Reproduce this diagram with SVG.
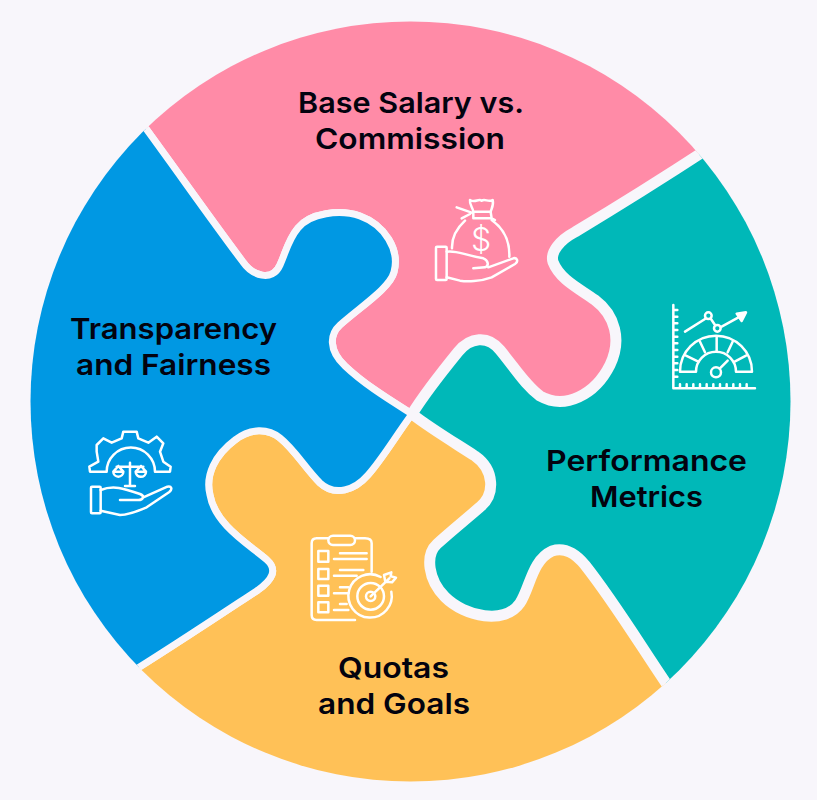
<svg xmlns="http://www.w3.org/2000/svg" width="817" height="800" viewBox="0 0 817 800">
<defs><clipPath id="disc"><circle cx="410.5" cy="401.5" r="380"/></clipPath></defs>
<style>
.p{stroke:#f8f6fb;stroke-width:7;stroke-linejoin:round;clip-path:url(#disc)}
.w{stroke-width:11}
.t{font-family:Inter,"Open Sans","DejaVu Sans",sans-serif;font-size:29px;font-weight:600;fill:#03030f}
.i{fill:none;stroke:#fff;stroke-width:7.5;stroke-linecap:round;stroke-linejoin:round}
</style>
<rect width="817" height="800" fill="#f8f6fb"/>
<g id="connectors"></g>
<g id="node-base-salary">
<path class="p" fill="#ff8ba7" d="M139,119 C180,175 215,225 243,262 C252,275 272,283 280,265 C286,252 288,240 298,228 C310,213 340,209 360,216 C385,225 400,250 394,272 C390,288 360,307 340,325 C330,334 328,350 345,366 C365,385 390,400 412,414 C425,393 445,368 458,352 C470,337 488,335 500,350 C515,368 525,385 540,396 C565,410 595,395 610,365 C622,340 615,315 595,300 C580,289 560,280 553,262 C550,252 560,240 575,232 C615,208 660,180 709,148 A392,392 0 0 0 139,119 Z"/>
<text class="t" x="298" y="113" textLength="226" lengthAdjust="spacingAndGlyphs">Base Salary vs.</text>
<text class="t" x="315" y="149" textLength="190" lengthAdjust="spacingAndGlyphs">Commission</text>
<g class="i" transform="translate(420 190) scale(.3333)">
<rect x="48" y="170" width="32" height="100" rx="3"/>
<path d="M80,185 C110,180 130,195 190,205 C205,210 208,228 195,232 L160,235 M205,232 L280,205 C292,202 296,215 285,222 L215,262 C180,275 140,275 120,272 L80,262"/>
<path d="M150,30 C165,40 175,25 185,32 C195,25 205,38 218,30 C222,45 215,55 212,65 L160,65 C158,52 148,45 150,30 Z M160,66 L160,85 L215,85 L212,66 M110,52 L155,68 M125,85 L150,72 M215,85 L225,90"/>
<path d="M135,92 C110,115 95,145 96,175 M215,90 C250,115 270,150 268,200"/>
</g>
<text x="481" y="251" font-family="Inter,sans-serif" font-size="32" font-weight="300" fill="#fff" text-anchor="middle">$</text>
</g>
<g id="node-quotas">
<path class="p" fill="#ffc157" d="M412,414 C395,437 383,458 368,475 C355,490 335,497 320,483 C305,468 295,450 280,438 C268,428 250,428 235,440 C215,455 205,475 210,495 C215,525 250,545 267,560 C278,570 272,580 258,590 C220,615 175,645 130,673 A392,392 0 0 0 672,692 C640,645 615,603 585,565 C575,553 565,547 552,551 C532,560 530,588 520,603 C505,625 465,617 445,597 C428,580 425,555 437,544 C450,532 465,520 480,507 C495,495 495,470 475,456 C455,443 430,428 412,414 Z"/>
<text class="t" x="338" y="678" textLength="111" lengthAdjust="spacingAndGlyphs">Quotas</text>
<text class="t" x="318" y="714" textLength="152" lengthAdjust="spacingAndGlyphs">and Goals</text>
<g class="i" transform="translate(300 525) scale(.3333)">
<path d="M85,40 H50 Q35,40 35,55 V270 Q35,285 50,285 H165 M165,40 H195 Q215,40 215,55 V140"/>
<rect x="85" y="32" width="80" height="28" rx="14"/>
<rect x="55" y="78" width="30" height="32"/><rect x="55" y="132" width="30" height="30"/><rect x="55" y="182" width="30" height="30"/><rect x="55" y="232" width="30" height="30"/>
<path d="M120,85 H200 M102,102 H200 M120,135 H190 M102,152 H170 M120,187 H145 M102,205 H145 M120,237 H140 M102,255 H145"/>
<path d="M242,156 A65,65 0 1 0 274,200"/>
<circle cx="212" cy="214" r="40"/><circle cx="212" cy="214" r="14"/>
<path d="M212,214 L268,160 M252,150 L256,170 L276,172 L288,158 L272,154 L274,142 Z"/>
</g>
</g>
<g id="node-performance">
<path class="p w" fill="#00b8b8" d="M709,148 A392,392 0 0 1 672,692 C640,645 615,603 585,565 C575,553 565,547 552,551 C532,560 530,588 520,603 C505,625 465,617 445,597 C428,580 425,555 437,544 C450,532 465,520 480,507 C495,495 495,470 475,456 C455,443 430,428 412,414 C425,393 445,368 458,352 C470,337 488,335 500,350 C515,368 525,385 540,396 C565,410 595,395 610,365 C622,340 615,315 595,300 C580,289 560,280 553,262 C550,252 560,240 575,232 C615,208 660,180 709,148 Z"/>
<text class="t" x="546" y="471" textLength="201" lengthAdjust="spacingAndGlyphs">Performance</text>
<text class="t" x="590" y="507" textLength="113" lengthAdjust="spacingAndGlyphs">Metrics</text>
<g class="i" transform="translate(660 295) scale(.3333)">
<path d="M40,30 V280 H285 M40,45 H52 M40,65 H52 M40,85 H52 M40,105 H52 M40,125 H52 M40,145 H52 M40,165 H52 M40,185 H52 M40,205 H52 M40,225 H52 M40,245 H52 M60,280 V268 M80,280 V268 M100,280 V268 M120,280 V268 M140,280 V268 M160,280 V268 M180,280 V268 M200,280 V268 M220,280 V268 M240,280 V268 M260,280 V268"/>
<path d="M75,110 L135,72 M153,72 L165,90 M185,95 L245,62"/>
<circle cx="145" cy="62" r="10"/><circle cx="172" cy="100" r="10"/>
<path d="M258,52 L230,56 L245,78 Z" fill="#fff"/>
<path d="M60,230 A108,108 0 0 1 276,230 H228 A60,60 0 0 0 108,230 Z"/>
<path d="M78,182 L115,200 M120,140 L135,172 M170,125 V168 M218,140 L203,172 M258,182 L224,200"/>
<circle cx="168" cy="232" r="15"/><path d="M179,221 L203,197"/>
</g>
</g>
<g id="node-transparency">
<path class="p" fill="#0098e3" d="M139,119 C180,175 215,225 243,262 C252,275 272,283 280,265 C286,252 288,240 298,228 C310,213 340,209 360,216 C385,225 400,250 394,272 C390,288 360,307 340,325 C330,334 328,350 345,366 C365,385 390,400 412,414 C395,437 383,458 368,475 C355,490 335,497 320,483 C305,468 295,450 280,438 C268,428 250,428 235,440 C215,455 205,475 210,495 C215,525 250,545 267,560 C278,570 272,580 258,590 C220,615 175,645 130,673 A392,392 0 0 1 139,119 Z"/>
<text class="t" x="70" y="339" textLength="207" lengthAdjust="spacingAndGlyphs">Transparency</text>
<text class="t" x="76" y="375" textLength="195" lengthAdjust="spacingAndGlyphs">and Fairness</text>
<g class="i" transform="translate(80 420) scale(.3333)">
<path d="M80,155 H30 L28,140 L55,125 L50,95 L50,75 L70,55 L95,68 L125,55 L130,35 H170 L175,55 L205,68 L230,50 L250,70 L240,95 L250,125 L272,140 L270,155 H225 M80,155 A72,72 0 0 1 225,155"/>
<path d="M110,140 H190 M150,128 V195 M135,198 H165 M115,138 L100,155 H130 L115,138 M100,155 A15,15 0 0 0 130,155 M183,138 L167,155 H198 L183,138 M167,155 A15,15 0 0 0 198,155"/>
<rect x="33" y="200" width="29" height="80" rx="3"/>
<path d="M62,210 C100,195 130,205 180,222 C195,228 190,240 175,240 H120 M190,232 L262,200 C275,197 278,208 268,216 L200,262 C170,275 140,285 120,285 L62,272"/>
</g>
</g>
</svg>
